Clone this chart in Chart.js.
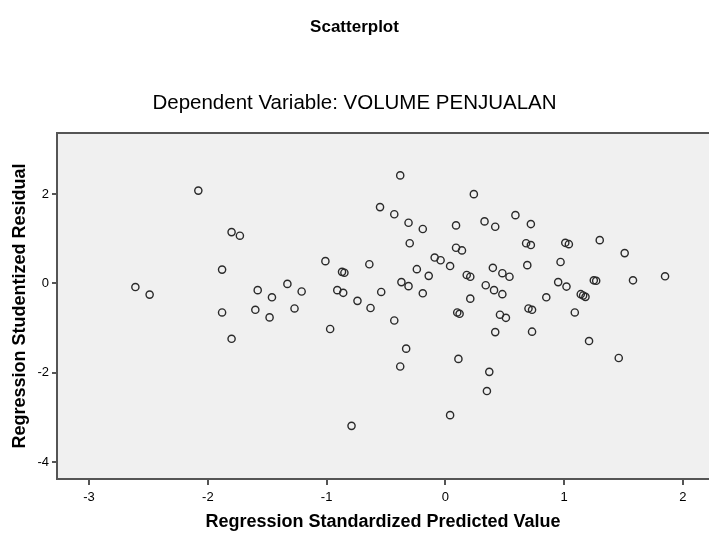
<!DOCTYPE html>
<html>
<head>
<meta charset="utf-8">
<script src="https://cdn.jsdelivr.net/npm/chart.js@4.4.0/dist/chart.umd.min.js"></script>
<style>
html,body{margin:0;padding:0;background:#ffffff;}
canvas{display:block;}
</style>
</head>
<body>
<canvas id="c" width="709" height="535"></canvas>
<script>
// Regression Standardized Predicted Value (x)
const predictedValues = [
  -2.61,-2.49,-2.08,-1.80,-1.73,-1.88,-1.88,-1.80,-1.58,-1.60,
  -1.46,-1.48,-1.33,-1.21,-1.27,-1.01,-0.97,-0.87,-0.85,-0.91,
  -0.86,-0.64,-0.74,-0.63,-0.54,-0.43,-0.37,-0.31,-0.30,-0.31,
  -0.33,-0.38,-0.79,-0.38, 0.24,-0.55,-0.43,-0.19, 0.09, 0.33,
   0.09, 0.14,-0.09,-0.04, 0.04,-0.24,-0.14, 0.18, 0.21, 0.34,
   0.21, 0.10, 0.12,-0.19, 0.42, 0.72, 0.68, 0.72, 1.01, 1.04,
   0.40, 0.48, 0.54, 0.69, 0.97, 0.41, 0.48, 0.85, 0.95, 1.02,
   0.46, 0.51, 0.70, 0.73, 0.42, 0.73, 1.30, 1.51, 1.85, 1.58,
   1.25, 1.27, 1.14, 1.16, 1.18, 1.09, 1.21, 1.46, 0.37, 0.35,
   0.11, 0.04, 0.59
];
// Regression Studentized Residual (y)
const residualValues = [
  -0.08,-0.25, 2.08, 1.15, 1.07, 0.31,-0.65,-1.24,-0.15,-0.59,
  -0.31,-0.76,-0.01,-0.18,-0.56, 0.50,-1.02, 0.26, 0.24,-0.15,
  -0.21, 0.43,-0.39,-0.55,-0.19,-0.83, 0.03,-0.06, 0.90, 1.36,
  -1.46,-1.86,-3.19, 2.42, 2.00, 1.71, 1.55, 1.22, 1.30, 1.39,
   0.80, 0.74, 0.58, 0.52, 0.39, 0.32, 0.17, 0.19, 0.15,-0.04,
  -0.34,-0.65,-0.68,-0.22, 1.27, 1.33, 0.90, 0.86, 0.91, 0.88,
   0.35, 0.23, 0.15, 0.41, 0.48,-0.15,-0.24,-0.31, 0.03,-0.07,
  -0.70,-0.77,-0.56,-0.59,-1.09,-1.08, 0.97, 0.68, 0.16, 0.07,
   0.07, 0.06,-0.24,-0.27,-0.30,-0.65,-1.29,-1.67,-1.98,-2.41,
  -1.69,-2.95, 1.53
];
const xTickValues = [-3, -2, -1, 0, 1, 2];
const yTickValues = [-4, -2, 0, 2];
const chartTitle = 'Scatterplot';
const chartSubtitle = 'Dependent Variable: VOLUME PENJUALAN';
const xAxisTitle = 'Regression Standardized Predicted Value';
const yAxisTitle = 'Regression Studentized Residual';

const points = predictedValues.map((x, i) => ({ x: x, y: residualValues[i] }));
const FONT = '"Liberation Sans", Arial, Helvetica, sans-serif';
const FRAME = '#555555';

const plotBackground = {
  id: 'plotBackground',
  beforeDatasetsDraw(chart) {
    const { ctx, chartArea: a } = chart;
    ctx.save();
    ctx.fillStyle = '#f0f0f0';
    ctx.fillRect(a.left, a.top, a.right - a.left, a.bottom - a.top);
    ctx.strokeStyle = FRAME;
    ctx.lineWidth = 2;
    ctx.beginPath();
    ctx.moveTo(a.right + 2, a.top);
    ctx.lineTo(a.left, a.top);
    ctx.lineTo(a.left, a.bottom);
    ctx.lineTo(a.right + 2, a.bottom);
    ctx.stroke();
    ctx.restore();
  }
};

new Chart(document.getElementById('c'), {
  type: 'scatter',
  data: {
    datasets: [{
      data: points,
      pointStyle: 'circle',
      pointRadius: 3.6,
      pointHoverRadius: 3.6,
      pointBorderWidth: 1.4,
      pointBorderColor: '#2a2a2a',
      pointBackgroundColor: 'rgba(0,0,0,0)'
    }]
  },
  options: {
    responsive: false,
    animation: false,
    layout: { padding: 0, autoPadding: false },
    plugins: {
      legend: { display: false },
      tooltip: { enabled: false },
      title: {
        display: true,
        text: chartTitle,
        color: '#000',
        font: { family: FONT, size: 17, weight: 'bold' },
        padding: { top: 17, bottom: 0 }
      },
      subtitle: {
        display: true,
        text: chartSubtitle,
        color: '#000',
        font: { family: FONT, size: 20.5, weight: 'normal' },
        padding: { top: 53.3, bottom: 17.7 }
      }
    },
    scales: {
      x: {
        type: 'linear',
        min: -3.27,
        max: 2.22,
        afterBuildTicks: s => { s.ticks = xTickValues.map(v => ({ value: v })); },
        afterFit: s => { s.height = 56; },
        border: { display: false },
        grid: { drawOnChartArea: false, drawTicks: true, tickLength: 6, color: FRAME, lineWidth: 2 },
        ticks: { color: '#000', padding: 5, font: { family: FONT, size: 13 }, maxRotation: 0 },
        title: {
          display: true,
          text: xAxisTitle,
          color: '#000',
          font: { family: FONT, size: 18, weight: 'bold' },
          padding: { top: 0, bottom: 2.2 }
        }
      },
      y: {
        type: 'linear',
        min: -4.38,
        max: 3.37,
        afterBuildTicks: s => { s.ticks = yTickValues.map(v => ({ value: v })); },
        afterFit: s => { s.width = 57; },
        border: { display: false },
        grid: { drawOnChartArea: false, drawTicks: true, tickLength: 5, color: FRAME, lineWidth: 2 },
        ticks: { color: '#000', padding: 3, font: { family: FONT, size: 13 } },
        title: {
          display: true,
          text: yAxisTitle,
          color: '#000',
          font: { family: FONT, size: 18, weight: 'bold' },
          padding: { top: 9.2, bottom: 0 }
        }
      }
    }
  },
  plugins: [plotBackground]
});
</script>
</body>
</html>
